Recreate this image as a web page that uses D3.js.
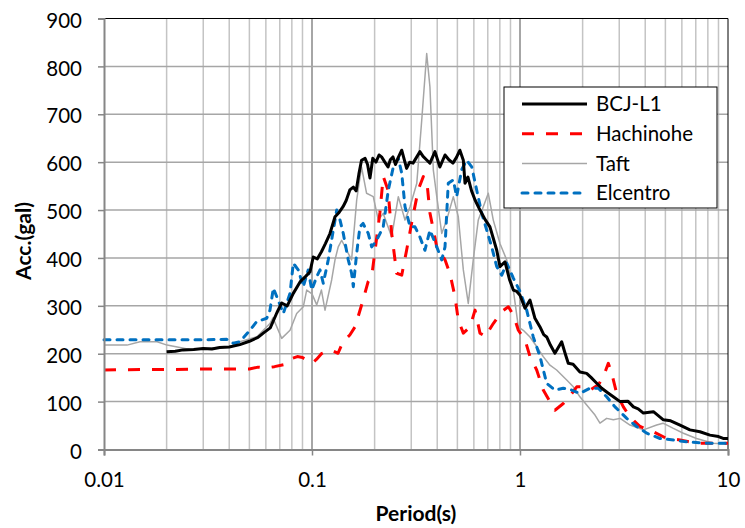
<!DOCTYPE html>
<html>
<head>
<meta charset="utf-8">
<script src="https://cdn.jsdelivr.net/npm/d3@7/dist/d3.min.js"></script>
<style>
  body { margin: 0; background: #fff; }
  svg { display: block; font-family: Lato, "Open Sans", sans-serif; }
</style>
</head>
<body>
<svg id="chart" width="745" height="528"></svg>
<script>
// ---- data: [period (s), acceleration (gal)] ----
const bcjL1 = [[0.02,204],[0.022,205],[0.024,208],[0.027,209],[0.03,211],[0.033,210],[0.036,213],[0.04,214],[0.045,219],[0.05,226],[0.055,234],[0.0583,243],[0.063,254],[0.0677,285],[0.0715,306],[0.076,300],[0.0813,326],[0.0876,350],[0.0935,362],[0.0978,371],[0.1014,402],[0.106,398],[0.111,413],[0.116,430],[0.122,451],[0.129,486],[0.135,495],[0.141,507],[0.146,520],[0.152,542],[0.158,548],[0.163,540],[0.168,575],[0.173,604],[0.18,608],[0.185,595],[0.19,567],[0.196,608],[0.203,600],[0.21,615],[0.216,611],[0.224,600],[0.232,590],[0.238,605],[0.245,611],[0.252,595],[0.26,610],[0.27,625],[0.285,587],[0.295,600],[0.306,598],[0.318,610],[0.33,622],[0.342,612],[0.355,605],[0.369,598],[0.39,622],[0.412,590],[0.436,615],[0.455,605],[0.476,598],[0.495,610],[0.514,625],[0.534,604],[0.544,556],[0.562,569],[0.585,540],[0.608,521],[0.642,500],[0.68,480],[0.717,465],[0.745,440],[0.773,416],[0.801,382],[0.847,392],[0.89,355],[0.929,333],[0.965,330],[1.0,322],[1.057,295],[1.117,312],[1.18,274],[1.248,256],[1.3,240],[1.344,235],[1.4,218],[1.472,201],[1.586,225],[1.65,200],[1.706,180],[1.8,178],[1.941,162],[2.092,159],[2.2,150],[2.294,142],[2.471,128],[2.65,118],[2.81,110],[3.03,100],[3.3,101],[3.51,89],[3.7,85],[3.92,76],[4.38,79],[4.89,62],[5.3,60],[5.88,51],[6.56,41],[7.33,37],[8.19,30],[9.0,27],[9.48,23],[10,23]];

const hachinohe = [[0.01,166],[0.015,167],[0.02,167],[0.03,168],[0.04,168],[0.05,168],[0.055,172],[0.06,170],[0.066,173],[0.075,178],[0.08,190],[0.085,194],[0.09,192],[0.1,180],[0.105,188],[0.111,200],[0.122,208],[0.1334,201],[0.141,225],[0.152,239],[0.161,256],[0.176,312],[0.186,350],[0.1936,361],[0.201,416],[0.212,494],[0.22,570],[0.232,542],[0.2416,451],[0.2553,368],[0.27,364],[0.285,416],[0.301,472],[0.324,542],[0.343,570],[0.356,563],[0.369,494],[0.398,423],[0.436,396],[0.46,368],[0.487,319],[0.505,270],[0.534,243],[0.575,256],[0.608,291],[0.642,243],[0.666,239],[0.679,235],[0.744,263],[0.817,288],[0.879,298],[0.929,281],[0.982,249],[1.057,229],[1.117,194],[1.203,166],[1.294,124],[1.393,100],[1.472,82],[1.615,96],[1.706,107],[1.874,131],[2.015,131],[2.17,124],[2.38,135],[2.515,152],[2.658,180],[2.76,159],[2.917,117],[3.14,89],[3.38,68],[3.78,48],[4.38,37],[5.07,23],[5.88,20],[7.06,13],[8.49,13],[10,13]];

const taft = [[0.01,218],[0.0129,218],[0.0149,225],[0.018,225],[0.0201,218],[0.0259,209],[0.0323,212],[0.0404,214],[0.045,225],[0.0542,235],[0.0628,263],[0.0649,275],[0.0715,232],[0.0784,249],[0.0844,284],[0.0908,298],[0.0943,333],[0.1,325],[0.1054,302],[0.111,333],[0.1155,291],[0.1243,354],[0.129,396],[0.1337,423],[0.1389,437],[0.1468,416],[0.155,396],[0.164,521],[0.173,590],[0.183,535],[0.197,528],[0.2084,479],[0.22,493],[0.2416,444],[0.26,528],[0.28,479],[0.296,507],[0.319,556],[0.337,688],[0.356,827],[0.369,757],[0.383,584],[0.398,528],[0.4205,451],[0.444,479],[0.478,528],[0.505,486],[0.534,375],[0.564,305],[0.596,396],[0.63,479],[0.666,507],[0.704,535],[0.744,479],[0.801,430],[0.863,396],[0.929,333],[0.982,256],[1.037,249],[1.117,235],[1.203,215],[1.294,194],[1.393,176],[1.5,166],[1.677,145],[1.804,131],[1.941,110],[2.092,93],[2.294,72],[2.424,55],[2.61,65],[2.81,62],[3.03,65],[3.38,51],[3.92,41],[4.54,51],[4.87,55],[5.46,44],[6.1,34],[7.06,23],[8.49,13],[10,11]];

const elcentro = [[0.01,229],[0.02,229],[0.03,229],[0.0389,230],[0.0418,222],[0.045,225],[0.0503,249],[0.0542,267],[0.0606,274],[0.0628,291],[0.0652,337],[0.0677,319],[0.0728,284],[0.0784,326],[0.0813,389],[0.0859,375],[0.0908,340],[0.0959,375],[0.0997,333],[0.1054,361],[0.1093,375],[0.1133,347],[0.1197,396],[0.1266,458],[0.1315,500],[0.1364,479],[0.1414,451],[0.1494,396],[0.155,368],[0.158,340],[0.164,410],[0.17,465],[0.176,472],[0.1865,451],[0.1936,423],[0.2047,437],[0.22,465],[0.2328,542],[0.246,590],[0.26,608],[0.27,577],[0.28,507],[0.296,465],[0.3127,465],[0.33,444],[0.349,416],[0.369,458],[0.398,423],[0.4205,396],[0.436,423],[0.452,556],[0.478,563],[0.496,528],[0.524,584],[0.554,604],[0.586,590],[0.619,542],[0.655,493],[0.692,458],[0.731,423],[0.773,382],[0.817,364],[0.863,389],[0.929,358],[1.0,330],[1.077,291],[1.158,235],[1.248,194],[1.344,138],[1.472,124],[1.615,128],[1.773,124],[1.941,117],[2.17,128],[2.38,128],[2.61,110],[2.862,89],[3.26,65],[3.64,48],[4.07,34],[4.71,23],[5.46,20],[6.33,16],[7.9,13],[10,13]];

const seriesNames = ["BCJ-L1", "Hachinohe", "Taft", "Elcentro"];
const xTickValues = [0.01, 0.1, 1, 10];
const xTickLabels = ["0.01", "0.1", "1", "10"];
const yTickValues = [0, 100, 200, 300, 400, 500, 600, 700, 800, 900];
const xTitle = "Period(s)";
const yTitle = "Acc.(gal)";

// ---- layout ----
const pL = 104, pR = 728, pT = 18.5, pB = 449.5;
const svg = d3.select("#chart");
const x = d3.scaleLog().domain([0.01, 10]).range([pL, pR]);
const y = d3.scaleLinear().domain([0, 900]).range([pB, pT]);

const isDecade = d => Math.abs(Math.log10(d) - Math.round(Math.log10(d))) < 1e-6;

// vertical grid (minor + decades)
const vLines = [];
[0.01, 0.1, 1].forEach(dec => { for (let k = 1; k <= 9; k++) vLines.push(+(k * dec).toPrecision(3)); });
svg.append("g").selectAll("line").data(vLines.filter(v => v > 0.01 && v < 10)).join("line")
  .attr("x1", d => x(d)).attr("x2", d => x(d)).attr("y1", pT).attr("y2", pB)
  .attr("stroke", d => isDecade(d) ? "#a6a6a6" : "#c4c4c4")
  .attr("stroke-width", d => isDecade(d) ? 2 : 1.5);

// horizontal grid
svg.append("g").selectAll("line").data(yTickValues.filter(v => v > 0 && v < 900)).join("line")
  .attr("x1", pL).attr("x2", pR).attr("y1", d => y(d)).attr("y2", d => y(d))
  .attr("stroke", "#a6a6a6").attr("stroke-width", 1.5);

// top / right border
svg.append("path").attr("d", `M${pL},${pT}H${pR}V${pB}`)
  .attr("fill", "none").attr("stroke", "#000").attr("stroke-width", 1);

// series
const line = d3.line().x(d => x(d[0])).y(d => y(d[1]));
const styles = [
  { data: taft, color: "#a6a6a6", width: 1.5, dash: null, cap: "butt" },
  { data: hachinohe, color: "#ff0000", width: 3, dash: "12,12", cap: "butt" },
  { data: elcentro, color: "#0070c0", width: 3, dash: "6,7", cap: "round" },
  { data: bcjL1, color: "#000000", width: 3, dash: null, cap: "butt" }
];
styles.forEach(s => {
  svg.append("path").datum(s.data).attr("d", line)
    .attr("fill", "none").attr("stroke", s.color).attr("stroke-width", s.width)
    .attr("stroke-dasharray", s.dash).attr("stroke-linecap", s.cap).attr("stroke-linejoin", "round");
});

// axes
const yAxis = svg.append("g").attr("transform", `translate(${pL},0)`)
  .call(d3.axisLeft(y).tickValues(yTickValues).tickSize(6).tickPadding(16).tickFormat(d3.format("d")));
const xAxis = svg.append("g").attr("transform", `translate(0,${pB})`)
  .call(d3.axisBottom(x).tickValues(xTickValues).tickSize(6).tickPadding(17)
    .tickFormat((d, i) => xTickLabels[i]));
[yAxis, xAxis].forEach(a => {
  a.select(".domain").attr("stroke", "#868686").attr("stroke-width", 2);
  a.selectAll(".tick line").attr("stroke", "#868686").attr("stroke-width", 1.5);
  a.selectAll(".tick text").attr("fill", "#000").style("font-size", "20.5px")
    .style("font-family", "Lato, 'Open Sans', sans-serif");
});
yAxis.selectAll(".tick text").attr("dy", "0.42em");

// titles
svg.append("text").attr("x", (pL + pR) / 2).attr("y", 521).attr("text-anchor", "middle")
  .style("font-size", "21px").style("font-weight", "bold").text(xTitle);
svg.append("text").attr("transform", "translate(31,241) rotate(-90)").attr("text-anchor", "middle")
  .style("font-size", "21px").style("font-weight", "bold").text(yTitle);

// legend
const lg = svg.append("g");
lg.append("rect").attr("x", 504).attr("y", 87).attr("width", 213).attr("height", 121)
  .attr("fill", "#fff").attr("stroke", "#000").attr("stroke-width", 1);
const legStyles = [styles[3], styles[1], styles[0], styles[2]];
seriesNames.forEach((name, i) => {
  const yy = 104 + i * 29.7;
  const s = legStyles[i];
  lg.append("line").attr("x1", 522).attr("x2", 587).attr("y1", yy).attr("y2", yy)
    .attr("stroke", s.color).attr("stroke-width", s.width).attr("stroke-dasharray", s.dash)
    .attr("stroke-linecap", s.cap);
  lg.append("text").attr("x", 596).attr("y", yy).attr("dy", "0.36em")
    .style("font-size", "20.5px").text(name);
});
</script>
</body>
</html>
